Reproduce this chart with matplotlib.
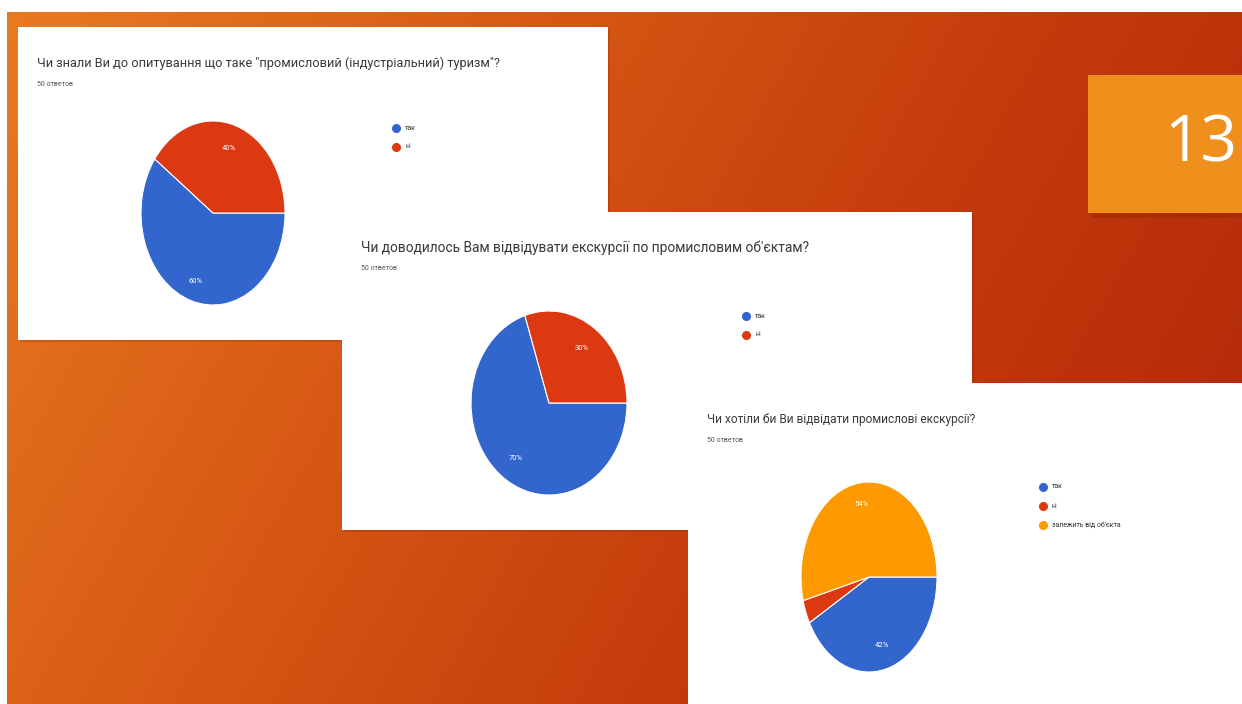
import numpy as np
import matplotlib
matplotlib.use("Agg")
import matplotlib.pyplot as plt
from matplotlib.colors import LinearSegmentedColormap

W, H = 1242, 704

# --- data ---
titles = [
    "Чи знали Ви до опитування що таке \"промисловий (індустріальний) туризм\"?",
    "Чи доводилось Вам відвідувати екскурсії по промисловим об'єктам?",
    "Чи хотіли би Ви відвідати промислові екскурсії?",
]
subtitle = "50 ответов"
labels_1 = ["так", "ні"]
values_1 = [60, 40]
labels_2 = ["так", "ні"]
values_2 = [70, 30]
labels_3 = ["так", "ні", "залежить від об'єкта"]
values_3 = [42, 4, 54]
slide_number = "13"

blue, red, orange = "#3366cc", "#dc3912", "#ff9900"
colors = [blue, red, orange]

plt.rcParams['font.family'] = ['Roboto', 'DejaVu Sans']

fig = plt.figure(figsize=(W / 100, H / 100), dpi=100)
fig.patch.set_facecolor("white")


def box(x0, y0, x1, y1):
    # pixel box (top-left origin) -> figure rect
    return [x0 / W, 1 - y1 / H, (x1 - x0) / W, (y1 - y0) / H]


def plain(rect, color, alpha=1.0):
    a = fig.add_axes(rect)
    a.set_facecolor(color)
    a.patch.set_alpha(alpha)
    a.set_xticks([]); a.set_yticks([])
    for s in a.spines.values():
        s.set_visible(False)
    return a


# background gradient
bg = fig.add_axes(box(7, 12, W, H))
bg.axis("off")
xx, yy = np.meshgrid(np.linspace(0, 1, 300), np.linspace(0, 1, 200))
t = np.clip(0.8 * xx + 0.25 * yy, 0, 1)
cmap = LinearSegmentedColormap.from_list("bg", ["#e87a22", "#d85a14", "#c43c0c", "#b22808"])
bg.imshow(t, cmap=cmap, aspect="auto", extent=[0, 1, 0, 1], origin="upper")

# slide number box
plain(box(1092, 80, W, 218), "#8a1e06", 0.3)
nb = plain(box(1088, 75, W, 213), "#f0901c")
nb.text((1201 - 1088) / (W - 1088), 0.5, slide_number, color="white", fontsize=46,
        ha="center", va="center", transform=nb.transAxes, family=["Open Sans", "DejaVu Sans"])


def panel(px, pie_box, leg_xy, title, fs, values, labels, pct_pos):
    x0, y0, x1, y1 = px
    plain(box(x0 + 2, y0 + 2, x1 + 2, y1 + 2), "#7a1c04", 0.2)
    ax = plain(box(*px), "white")
    ax.set_xlim(x0, x1); ax.set_ylim(y1, y0)
    ax.text(x0 + 19, y0 + 36, title, fontsize=fs, color="#3a3a3a", va="center", ha="left")
    ax.text(x0 + 19, y0 + 57, subtitle, fontsize=5, color="#555555", va="center", ha="left")

    lx, ly = leg_xy
    for i, lab in enumerate(labels):
        ax.plot(lx, ly + i * 19, "o", color=colors[i], markersize=5.5)
        ax.text(lx + 9, ly + i * 19, lab, fontsize=5, color="#333333", va="center", ha="left")

    pa = fig.add_axes(box(*pie_box))
    pa.pie(values, colors=colors[:len(values)], startangle=0, counterclock=False,
           wedgeprops=dict(edgecolor="white", linewidth=0.8))
    pa.set_aspect("auto")
    pa.set_xlim(-1.0, 1.0); pa.set_ylim(-1.0, 1.0)
    bx0, by0, bx1, by1 = pie_box
    for v, pos in zip(values, pct_pos):
        if pos is None:
            continue
        u = (pos[0] - bx0) / (bx1 - bx0) * 2 - 1
        w = 1 - (pos[1] - by0) / (by1 - by0) * 2
        pa.text(u, w, f"{v}%", fontsize=5.5, color="white", ha="center", va="center", zorder=5)
    return ax


panel((18, 27, 608, 340), (141, 121, 285, 305), (396, 128), titles[0], 9.2,
      values_1, labels_1, [(196, 281), (229, 148)])
panel((342, 212, 972, 530), (471, 311, 627, 495), (746, 316), titles[1], 9.9,
      values_2, labels_2, [(516, 458), (582, 348)])
panel((688, 383, W, H + 10), (801, 482, 937, 672), (1043, 487), titles[2], 8.6,
      values_3, labels_3, [(882, 645), None, (862, 504)])

fig.savefig("out.png", dpi=100)
